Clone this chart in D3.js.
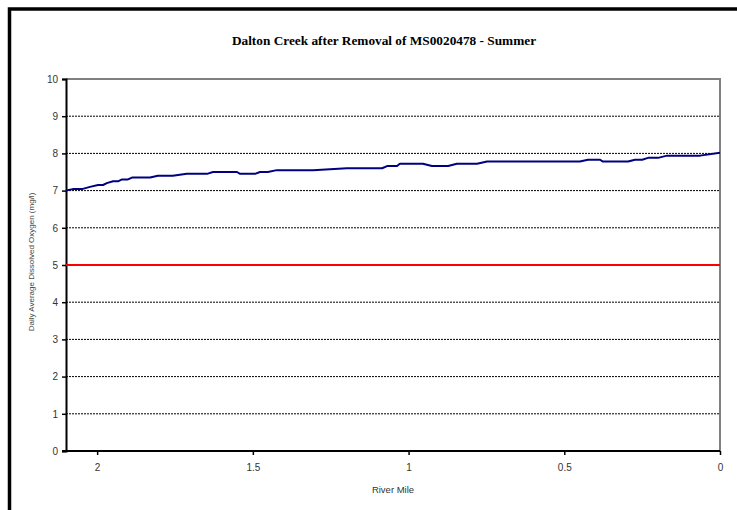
<!DOCTYPE html>
<html>
<head>
<meta charset="utf-8">
<script src="https://cdn.jsdelivr.net/npm/d3@7"></script>
<style>
  html, body { margin: 0; padding: 0; background: #fff; }
  svg { display: block; }
</style>
</head>
<body>
<svg id="chart" width="737" height="510"></svg>
<script>
// River mile positions (upstream -> downstream) and modelled dissolved oxygen
const riverMiles = [2.100, 2.078, 2.049, 2.023, 1.997, 1.981, 1.969, 1.949, 1.933, 1.920,
  1.901, 1.888, 1.830, 1.805, 1.757, 1.712, 1.647, 1.628, 1.551, 1.541,
  1.493, 1.477, 1.452, 1.423, 1.307, 1.198, 1.085, 1.069, 1.037, 1.028,
  0.954, 0.925, 0.873, 0.845, 0.780, 0.748, 0.450, 0.424, 0.385, 0.376,
  0.295, 0.273, 0.250, 0.231, 0.199, 0.170, 0.064, 0.000];
const doValues = [7.00, 7.04, 7.04, 7.10, 7.15, 7.15, 7.20, 7.25, 7.25, 7.30,
  7.30, 7.35, 7.35, 7.40, 7.40, 7.45, 7.45, 7.50, 7.50, 7.45,
  7.45, 7.50, 7.50, 7.55, 7.55, 7.60, 7.60, 7.66, 7.66, 7.72,
  7.72, 7.66, 7.66, 7.72, 7.72, 7.78, 7.78, 7.83, 7.83, 7.78,
  7.78, 7.83, 7.83, 7.88, 7.88, 7.94, 7.94, 8.02];

// Water quality standard
const standardMiles = [2.1, 0];
const standardValue = 5;

const xTicks = [2, 1.5, 1, 0.5, 0];
const yTicks = [0, 1, 2, 3, 4, 5, 6, 7, 8, 9, 10];

const titleText = "Dalton Creek after Removal of MS0020478 - Summer";
const xTitle = "River Mile";
const yTitle = "Daily Average Dissolved Oxygen (mg/l)";

const svg = d3.select("#chart");
const plotLeft = 66, plotRight = 720, plotTop = 79, plotBottom = 451;

const x = d3.scaleLinear().domain([2.1, 0]).range([plotLeft, plotRight]);
const y = d3.scaleLinear().domain([0, 10]).range([plotBottom, plotTop]);

// outer frame
svg.append("path")
  .attr("d", `M9.5,515 V9 H745`)
  .attr("fill", "none")
  .attr("stroke", "#000")
  .attr("stroke-width", 3.5);

// title
svg.append("text")
  .attr("x", 384).attr("y", 45)
  .attr("text-anchor", "middle")
  .attr("font-family", "'Liberation Serif', 'Times New Roman', serif")
  .attr("font-weight", "bold")
  .attr("font-size", 13.3)
  .attr("fill", "#000")
  .text(titleText);

// dashed gridlines
svg.append("g")
  .selectAll("line")
  .data(yTicks.filter(v => v > 0 && v < 10))
  .join("line")
  .attr("x1", plotLeft).attr("x2", plotRight)
  .attr("y1", d => y(d)).attr("y2", d => y(d))
  .attr("stroke", "#000")
  .attr("stroke-width", 1)
  .attr("stroke-dasharray", "2,1");

// plot area border (top / right)
svg.append("path")
  .attr("d", `M${plotLeft},${y(10)} H${plotRight} V${plotBottom}`)
  .attr("fill", "none")
  .attr("stroke", "#808080")
  .attr("stroke-width", 2);

// y axis
const yAxis = svg.append("g")
  .attr("transform", `translate(${plotLeft},0)`)
  .call(d3.axisLeft(y).tickValues(yTicks).tickSize(4).tickPadding(4).tickFormat(d3.format("d")));
yAxis.select(".domain").attr("stroke", "#000").attr("stroke-width", 2);
yAxis.selectAll(".tick line").attr("stroke", "#000").attr("stroke-width", 1.5);
yAxis.selectAll("text")
  .attr("font-family", "'Liberation Sans', Arial, sans-serif")
  .attr("font-size", 10)
  .attr("fill", "#333");

// x axis
const xAxis = svg.append("g")
  .attr("transform", `translate(0,${plotBottom})`)
  .call(d3.axisBottom(x).tickValues(xTicks).tickSize(4).tickPadding(9).tickFormat(d3.format("")));
xAxis.select(".domain").attr("stroke", "#000").attr("stroke-width", 2)
  .attr("d", `M${plotLeft - 4},0H${plotRight}`);
xAxis.selectAll(".tick line").attr("stroke", "#000").attr("stroke-width", 1.5);
xAxis.selectAll("text")
  .attr("font-family", "'Liberation Sans', Arial, sans-serif")
  .attr("font-size", 10)
  .attr("fill", "#333");

// axis titles
svg.append("text")
  .attr("x", (plotLeft + plotRight) / 2).attr("y", 493)
  .attr("text-anchor", "middle")
  .attr("font-family", "'Liberation Sans', Arial, sans-serif")
  .attr("font-size", 9.5)
  .attr("fill", "#333")
  .text(xTitle);

svg.append("text")
  .attr("transform", `translate(34,262) rotate(-90)`)
  .attr("text-anchor", "middle")
  .attr("font-family", "'Liberation Sans', Arial, sans-serif")
  .attr("font-size", 8)
  .attr("fill", "#444")
  .text(yTitle);

// standard line
svg.append("line")
  .attr("x1", x(standardMiles[0])).attr("x2", x(standardMiles[1]))
  .attr("y1", y(standardValue)).attr("y2", y(standardValue))
  .attr("stroke", "#ff0000")
  .attr("stroke-width", 2);

// dissolved oxygen profile
const series = riverMiles.map((m, i) => ({ m, v: doValues[i] }));
svg.append("path")
  .datum(series)
  .attr("fill", "none")
  .attr("stroke", "#000080")
  .attr("stroke-width", 2)
  .attr("stroke-linejoin", "round")
  .attr("d", d3.line().x(d => x(d.m)).y(d => y(d.v)));
</script>
</body>
</html>
